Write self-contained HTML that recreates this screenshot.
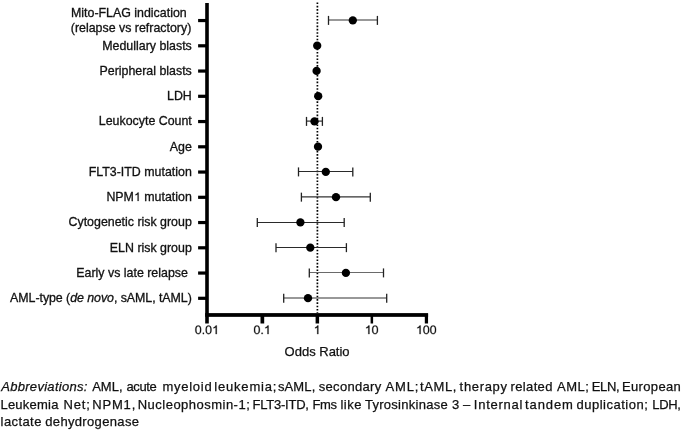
<!DOCTYPE html>
<html><head><meta charset="utf-8"><style>
html,body{margin:0;padding:0;background:#fff;}
body{width:685px;height:432px;overflow:hidden;position:relative;filter:grayscale(1);}
svg{position:absolute;left:0;top:0;}
.l{font-family:"Liberation Sans",sans-serif;font-size:12.4px;fill:#111;stroke:#111;stroke-width:0.3px;}
.t{font-family:"Liberation Sans",sans-serif;font-size:12px;fill:#111;}
.ax{font-family:"Liberation Sans",sans-serif;font-size:13px;fill:#111;stroke:#111;stroke-width:0.25px;}
.w{position:absolute;font-family:"Liberation Sans",sans-serif;font-size:13px;color:#111;white-space:nowrap;line-height:18px;-webkit-text-stroke:0.25px #111;}
</style></head><body>
<svg width="685" height="432" viewBox="0 0 685 432">
<defs><path id="g0" d="M1059 705Q1059 352 934.5 166.0Q810 -20 567 -20Q324 -20 202.0 165.0Q80 350 80 705Q80 1068 198.5 1249.0Q317 1430 573 1430Q822 1430 940.5 1247.0Q1059 1064 1059 705ZM876 705Q876 1010 805.5 1147.0Q735 1284 573 1284Q407 1284 334.5 1149.0Q262 1014 262 705Q262 405 335.5 266.0Q409 127 569 127Q728 127 802.0 269.0Q876 411 876 705Z"/><path id="gd" d="M187 0V219H382V0Z"/><path id="g1" d="M781 0H600V1085Q450 990 235 950V1090Q500 1160 630 1409H781Z"/></defs>
<line x1="317.4" y1="2.5" x2="317.4" y2="313" stroke="#000" stroke-width="1.7" stroke-dasharray="1.6 1.695"/>
<rect x="198.1" y="18.95" width="8" height="3.2" fill="#000"/>
<line x1="328.5" y1="20.00" x2="377.4" y2="20.00" stroke="#333" stroke-width="1.2"/>
<line x1="328.5" y1="15.90" x2="328.5" y2="24.90" stroke="#222" stroke-width="1.3"/>
<line x1="377.4" y1="15.90" x2="377.4" y2="24.90" stroke="#222" stroke-width="1.3"/>
<circle cx="352.8" cy="20.40" r="4.15" fill="#000"/>
<rect x="198.1" y="44.20" width="8" height="3.2" fill="#000"/>
<circle cx="317.2" cy="45.65" r="4.15" fill="#000"/>
<rect x="198.1" y="69.45" width="8" height="3.2" fill="#000"/>
<circle cx="316.6" cy="70.90" r="4.15" fill="#000"/>
<rect x="198.1" y="94.70" width="8" height="3.2" fill="#000"/>
<circle cx="318.2" cy="96.15" r="4.15" fill="#000"/>
<rect x="198.1" y="119.95" width="8" height="3.2" fill="#000"/>
<line x1="306.5" y1="121.10" x2="322.4" y2="121.10" stroke="#333" stroke-width="1.2"/>
<line x1="306.5" y1="116.90" x2="306.5" y2="125.90" stroke="#222" stroke-width="1.3"/>
<line x1="322.4" y1="116.90" x2="322.4" y2="125.90" stroke="#222" stroke-width="1.3"/>
<circle cx="314.5" cy="121.40" r="4.15" fill="#000"/>
<rect x="198.1" y="145.20" width="8" height="3.2" fill="#000"/>
<circle cx="318.0" cy="146.65" r="4.15" fill="#000"/>
<rect x="198.1" y="170.45" width="8" height="3.2" fill="#000"/>
<line x1="298.5" y1="171.50" x2="352.8" y2="171.50" stroke="#2a2a2a" stroke-width="1.1"/>
<line x1="298.5" y1="167.40" x2="298.5" y2="176.40" stroke="#222" stroke-width="1.3"/>
<line x1="352.8" y1="167.40" x2="352.8" y2="176.40" stroke="#222" stroke-width="1.3"/>
<circle cx="325.8" cy="171.90" r="4.15" fill="#000"/>
<rect x="198.1" y="195.70" width="8" height="3.2" fill="#000"/>
<line x1="301.4" y1="196.80" x2="370.3" y2="196.80" stroke="#333" stroke-width="1.3"/>
<line x1="301.4" y1="192.65" x2="301.4" y2="201.65" stroke="#222" stroke-width="1.3"/>
<line x1="370.3" y1="192.65" x2="370.3" y2="201.65" stroke="#222" stroke-width="1.3"/>
<circle cx="336.0" cy="197.15" r="4.15" fill="#000"/>
<rect x="198.1" y="220.95" width="8" height="3.2" fill="#000"/>
<line x1="257.3" y1="222.50" x2="344.2" y2="222.50" stroke="#2a2a2a" stroke-width="1.1"/>
<line x1="257.3" y1="217.90" x2="257.3" y2="226.90" stroke="#222" stroke-width="1.3"/>
<line x1="344.2" y1="217.90" x2="344.2" y2="226.90" stroke="#222" stroke-width="1.3"/>
<circle cx="300.4" cy="222.40" r="4.15" fill="#000"/>
<rect x="198.1" y="246.20" width="8" height="3.2" fill="#000"/>
<line x1="276.0" y1="247.50" x2="346.4" y2="247.50" stroke="#2a2a2a" stroke-width="1.1"/>
<line x1="276.0" y1="243.15" x2="276.0" y2="252.15" stroke="#222" stroke-width="1.3"/>
<line x1="346.4" y1="243.15" x2="346.4" y2="252.15" stroke="#222" stroke-width="1.3"/>
<circle cx="310.3" cy="247.65" r="4.15" fill="#000"/>
<rect x="198.1" y="271.45" width="8" height="3.2" fill="#000"/>
<line x1="309.3" y1="272.50" x2="383.5" y2="272.50" stroke="#6a6a6a" stroke-width="1.0"/>
<line x1="309.3" y1="268.40" x2="309.3" y2="277.40" stroke="#222" stroke-width="1.3"/>
<line x1="383.5" y1="268.40" x2="383.5" y2="277.40" stroke="#222" stroke-width="1.3"/>
<circle cx="345.9" cy="272.90" r="4.15" fill="#000"/>
<rect x="198.1" y="296.70" width="8" height="3.2" fill="#000"/>
<line x1="283.7" y1="298.00" x2="386.7" y2="298.00" stroke="#333" stroke-width="1.2"/>
<line x1="283.7" y1="293.65" x2="283.7" y2="302.65" stroke="#222" stroke-width="1.3"/>
<line x1="386.7" y1="293.65" x2="386.7" y2="302.65" stroke="#222" stroke-width="1.3"/>
<circle cx="308.0" cy="298.15" r="4.15" fill="#000"/>
<rect x="205.2" y="3" width="3.6" height="320.5" fill="#000"/>
<rect x="205.2" y="313.1" width="222.9" height="3.75" fill="#000"/>
<rect x="260.5" y="314" width="3.70" height="9.5" fill="#000"/>
<rect x="315.6" y="314" width="3.50" height="9.5" fill="#000"/>
<rect x="370.6" y="314" width="2.50" height="9.5" fill="#000"/>
<rect x="424.8" y="314" width="3.25" height="9.5" fill="#000"/>
<g fill="#111" stroke="#111" stroke-width="40"><use href="#g0" transform="translate(194.80,334.1) scale(0.006055,-0.006055)"/><use href="#gd" transform="translate(201.70,334.1) scale(0.006055,-0.006055)"/><use href="#g0" transform="translate(205.14,334.1) scale(0.006055,-0.006055)"/><use href="#g1" transform="translate(212.04,334.1) scale(0.006055,-0.006055)"/></g>
<g fill="#111" stroke="#111" stroke-width="40"><use href="#g0" transform="translate(253.50,334.1) scale(0.006055,-0.006055)"/><use href="#gd" transform="translate(260.40,334.1) scale(0.006055,-0.006055)"/><use href="#g1" transform="translate(263.84,334.1) scale(0.006055,-0.006055)"/></g>
<g fill="#111" stroke="#111" stroke-width="40"><use href="#g1" transform="translate(313.60,334.1) scale(0.006055,-0.006055)"/></g>
<g fill="#111" stroke="#111" stroke-width="40"><use href="#g1" transform="translate(364.70,334.1) scale(0.006055,-0.006055)"/><use href="#g0" transform="translate(371.60,334.1) scale(0.006055,-0.006055)"/></g>
<g fill="#111" stroke="#111" stroke-width="40"><use href="#g1" transform="translate(415.90,334.1) scale(0.006055,-0.006055)"/><use href="#g0" transform="translate(422.80,334.1) scale(0.006055,-0.006055)"/><use href="#g0" transform="translate(429.69,334.1) scale(0.006055,-0.006055)"/></g>
<text x="317.1" y="356.4" text-anchor="middle" class="ax">Odds Ratio</text>
<g fill="#111" stroke="#111" stroke-width="30"><use href="#g1" transform="translate(133.93,201.05) scale(0.006055,-0.006055)"/></g>
<text x="186.7" y="17.10" text-anchor="end" class="l">Mito-FLAG indication</text>
<text x="191.3" y="32.40" text-anchor="end" class="l">(relapse vs refractory)</text>
<text x="191.8" y="49.55" text-anchor="end" class="l">Medullary blasts</text>
<text x="191.8" y="74.80" text-anchor="end" class="l">Peripheral blasts</text>
<text x="191.8" y="100.05" text-anchor="end" class="l">LDH</text>
<text x="191.8" y="125.30" text-anchor="end" class="l">Leukocyte Count</text>
<text x="191.8" y="150.55" text-anchor="end" class="l">Age</text>
<text x="191.8" y="175.80" text-anchor="end" class="l">FLT3-ITD mutation</text>
<text x="191.8" y="201.05" text-anchor="end" class="l">NPM&#x2007; mutation</text>
<text x="191.8" y="226.30" text-anchor="end" class="l">Cytogenetic risk group</text>
<text x="191.8" y="251.55" text-anchor="end" class="l">ELN risk group</text>
<text x="187.9" y="276.80" text-anchor="end" class="l">Early vs late relapse</text>
<text x="191.8" y="302.05" text-anchor="end" textLength="181.7" lengthAdjust="spacing" class="l">AML-type (<tspan font-style="italic">de novo</tspan>, sAML, tAML)</text>
</svg>
<span class="w" style="left:1.24px;top:378px;letter-spacing:0.292px;font-style:italic">Abbreviations:</span>
<span class="w" style="left:92.17px;top:378px;letter-spacing:0.017px">AML,</span>
<span class="w" style="left:126.46px;top:378px;letter-spacing:-0.400px">acute</span>
<span class="w" style="left:162.54px;top:378px;letter-spacing:0.718px">myeloid</span>
<span class="w" style="left:214.32px;top:378px;letter-spacing:0.801px">leukemia;</span>
<span class="w" style="left:277.94px;top:378px;letter-spacing:0.122px">sAML,</span>
<span class="w" style="left:318.74px;top:378px;letter-spacing:0.314px">secondary</span>
<span class="w" style="left:385.40px;top:378px;letter-spacing:0.900px">AML;</span>
<span class="w" style="left:419.90px;top:378px;letter-spacing:0.628px">tAML,</span>
<span class="w" style="left:459.60px;top:378px;letter-spacing:0.677px">therapy</span>
<span class="w" style="left:510.54px;top:378px;letter-spacing:0.359px">related</span>
<span class="w" style="left:556.97px;top:378px;letter-spacing:0.517px">AML;</span>
<span class="w" style="left:591.63px;top:378px;letter-spacing:-0.322px">ELN,</span>
<span class="w" style="left:621.93px;top:378px;letter-spacing:0.362px">European</span>
<span class="w" style="left:0.43px;top:396px;letter-spacing:0.228px">Leukemia</span>
<span class="w" style="left:63.38px;top:396px;letter-spacing:0.900px">Net;</span>
<span class="w" style="left:92.23px;top:396px;letter-spacing:0.826px">NPM1,</span>
<span class="w" style="left:137.73px;top:396px;letter-spacing:0.484px">Nucleophosmin-1;</span>
<span class="w" style="left:252.53px;top:396px;letter-spacing:-0.224px">FLT3-ITD,</span>
<span class="w" style="left:312.57px;top:396px;letter-spacing:-0.400px">Fms</span>
<span class="w" style="left:340.52px;top:396px;letter-spacing:0.449px">like</span>
<span class="w" style="left:364.91px;top:396px;letter-spacing:0.273px">Tyrosinkinase</span>
<span class="w" style="left:452.02px;top:396px;letter-spacing:0.000px">3</span>
<span class="w" style="left:462.99px;top:396px;letter-spacing:0.000px">–</span>
<span class="w" style="left:473.80px;top:396px;letter-spacing:0.744px">Internal</span>
<span class="w" style="left:525.00px;top:396px;letter-spacing:0.899px">tandem</span>
<span class="w" style="left:576.45px;top:396px;letter-spacing:0.513px">duplication;</span>
<span class="w" style="left:652.34px;top:396px;letter-spacing:-0.400px">LDH,</span>
<span class="w" style="left:0.62px;top:413px;letter-spacing:0.409px">lactate</span>
<span class="w" style="left:45.25px;top:413px;letter-spacing:0.341px">dehydrogenase</span>
</body></html>
